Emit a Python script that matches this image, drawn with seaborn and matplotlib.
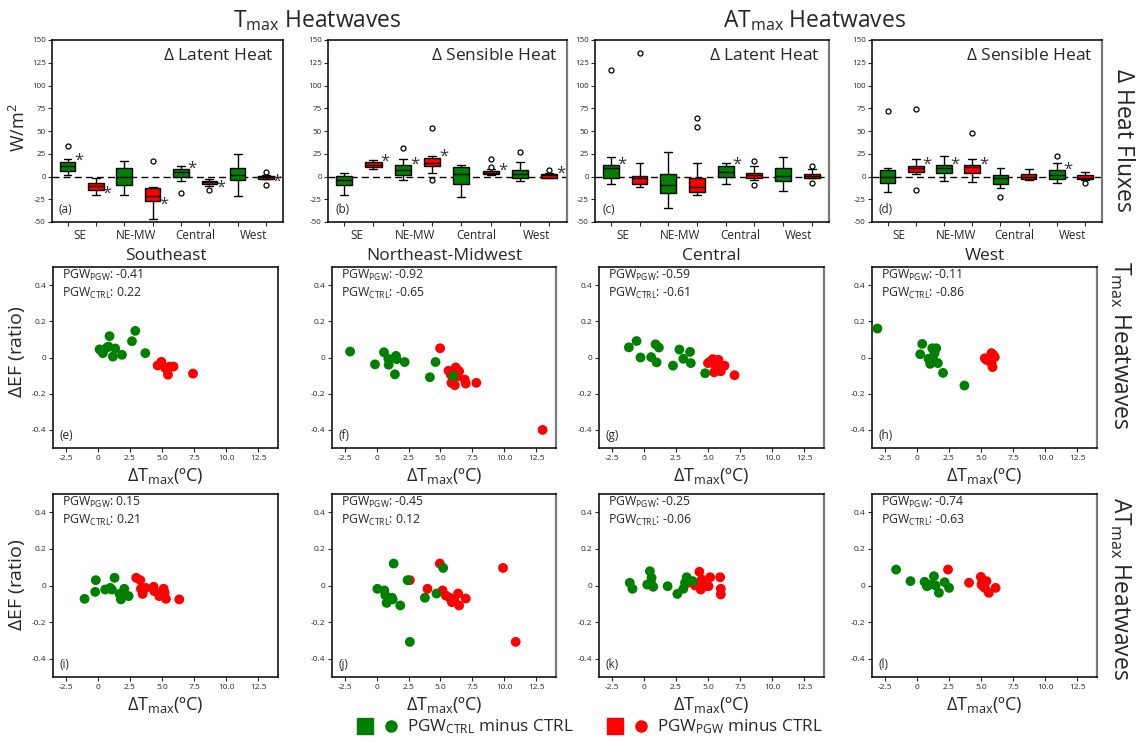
import numpy as np
import pandas as pd
import matplotlib
matplotlib.use("Agg")
import matplotlib.pyplot as plt
import seaborn as sns
from matplotlib.lines import Line2D
from matplotlib.legend_handler import HandlerTuple

sns.set_theme(style="ticks")
plt.rcParams["font.family"] = ["Open Sans", "DejaVu Sans"]
plt.rcParams["mathtext.fontset"] = "custom"
plt.rcParams["mathtext.rm"] = "Open Sans"
plt.rcParams["mathtext.it"] = "Open Sans:italic"
plt.rcParams["mathtext.bf"] = "Open Sans:bold"
plt.rcParams["axes.unicode_minus"] = False

GREEN = "#008000"
RED = "#ff0000"

REGIONS = ["SE", "NE-MW", "Central", "West"]
REGION_TITLES = ["Southeast", "Northeast-Midwest", "Central", "West"]

# Box summaries per slot: [low whisker, q1, median, q3, high whisker]
# slots alternate CTRL (even) / PGW (odd) for SE, NE-MW, Central, West
LH_TMAX = [
    [2, 5.5, 11, 16.2, 19.5],
    [-20, -15, -10.7, -7.4, -1.8],
    [-20, -9.6, 0, 9.2, 16.6],
    [-47, -26.9, -21.4, -12.5, -11.4],
    [-5, -1, 4.4, 7.7, 11],
    [-10.7, -8.5, -5.9, -4.4, -2.2],
    [-21.4, -4, 1.5, 9.6, 24.7],
    [-3, -2.2, -0.7, 0.7, 1.5],
]
LH_TMAX_OUT = [[34], [], [], [17.3], [-17.7], [-14.4], [], [4.4, -8.8]]
LH_TMAX_SIG = [1, 1, 0, 1, 1, 1, 0, 1]

SH_TMAX = [
    [-20.3, -9.2, -3.3, 0.4, 3.3],
    [7.7, 10, 12.9, 15.5, 17.7],
    [-3.3, 1.5, 7.4, 12.2, 19],
    [3.3, 11.4, 15.1, 20.3, 22.8],
    [-22.5, -8.1, 2.2, 10.3, 12.2],
    [1.5, 2.2, 4, 5.5, 7.7],
    [-5.2, -1.8, 2.6, 7, 15.5],
    [-1.8, -1.1, 1.1, 2.6, 3.7],
]
SH_TMAX_OUT = [[], [], [31], [53, -3.3], [], [19.5, 10.3], [27.3], [7.4]]
SH_TMAX_SIG = [0, 1, 1, 1, 0, 1, 0, 1]

LH_ATMAX = [
    [-8.1, -1.5, 8.8, 12.5, 21.7],
    [-11, -8.5, -1.5, 0.7, 14.4],
    [-34.3, -18.4, -9.6, 2.6, 26.5],
    [-20.3, -16.6, -11.8, -1.5, 14.4],
    [-8.1, 0, 4.4, 11.8, 14.7],
    [-4, -1.5, 1.5, 3.7, 11],
    [-15.8, -4.4, 0.4, 9.2, 21.7],
    [-1.5, -1.5, 0.7, 2.6, 7.7],
]
LH_ATMAX_OUT = [[116.8], [136], [], [64.8, 54.1], [], [17.3, -9.6], [], [11.8, -7.4]]
LH_ATMAX_SIG = [1, 0, 0, 0, 1, 0, 0, 0]

SH_ATMAX = [
    [-17.3, -7.4, 0, 7, 9.6],
    [2.2, 5.2, 9.6, 11.8, 19],
    [-4.4, 3.3, 9.6, 12.2, 22.8],
    [-5.9, 3.3, 10, 12.5, 19],
    [-12.2, -7.7, -1.1, 1.5, 9.6],
    [-3.3, -2.2, 0, 2.6, 8.1],
    [-7.4, -2.2, 1.8, 7, 15.1],
    [-3.3, -2.6, -1.1, 1.1, 4.8],
]
SH_ATMAX_OUT = [[71.5], [73.7, -14.7], [], [47.5], [-22.1], [], [22.1], [-7.4]]
SH_ATMAX_SIG = [0, 1, 1, 1, 0, 0, 1, 0]

# Scatter points (dTmax, dEF) -- Tmax heatwaves
SE_T_CTRL = [(0.13, 0.045), (0.39, 0.024), (0.7, 0.055), (0.83, 0.06), (0.91, 0.118),
             (1.17, 0.005), (1.35, 0.05), (1.88, 0.015), (2.66, 0.09), (2.92, 0.147), (3.7, 0.024)]
SE_T_PGW = [(4.66, -0.044), (4.95, -0.024), (5.26, -0.058), (5.4, -0.067), (5.47, -0.095),
            (5.6, -0.05), (5.9, -0.05), (7.42, -0.089)]
NE_T_CTRL = [(-2.08, 0.033), (-0.13, -0.038), (0.57, 0.029), (0.91, -0.007), (0.94, -0.04),
             (1.51, 0.009), (1.56, -0.009), (1.43, -0.093), (2.19, -0.025), (4.17, -0.109),
             (4.61, -0.025), (6.0, -0.102)]
NE_T_PGW = [(4.97, 0.051), (5.63, -0.073), (5.86, -0.14), (6.2, -0.055), (6.33, -0.104),
            (6.12, -0.153), (6.9, -0.122), (6.98, -0.144), (7.81, -0.14), (13.0, -0.4),
            (5.81, -0.095), (6.46, -0.076)]
CE_T_CTRL = [(-1.17, 0.056), (-0.57, 0.091), (-0.26, 0.0), (0.57, 0.002), (0.91, 0.073),
             (1.17, 0.055), (0.99, -0.027), (2.27, -0.045), (2.77, 0.044), (3.08, -0.007),
             (3.6, 0.031), (3.66, -0.031), (4.78, -0.087)]
CE_T_PGW = [(5.0, -0.031), (5.17, -0.022), (5.38, -0.009), (5.48, -0.082), (5.82, -0.013),
            (5.95, -0.045), (6.0, -0.076), (6.29, -0.045), (7.07, -0.098), (5.61, -0.049)]
WE_T_CTRL = [(-3.08, 0.16), (0.26, 0.018), (0.42, 0.075), (0.91, -0.007), (1.04, -0.035),
             (1.2, 0.051), (1.38, 0.024), (1.51, 0.051), (1.64, -0.031), (2.04, -0.085),
             (3.71, -0.155), (1.25, -0.004)]
WE_T_PGW = [(5.3, -0.004), (5.56, -0.009), (5.82, 0.024), (5.9, -0.053), (6.08, 0.002),
            (5.69, -0.022), (5.95, 0.015), (5.43, -0.013), (5.82, -0.031)]

# Scatter points (dTmax, dEF) -- ATmax heatwaves
SE_A_CTRL = [(-1.04, -0.073), (-0.21, -0.035), (-0.16, 0.029), (0.57, -0.022), (0.96, -0.013),
             (1.09, -0.022), (1.3, 0.042), (1.69, -0.046), (1.8, -0.076), (2.06, -0.018),
             (2.08, -0.049), (2.4, -0.058)]
SE_A_PGW = [(2.99, 0.042), (3.31, 0.029), (3.36, -0.018), (3.49, -0.046), (3.75, -0.013),
            (4.35, -0.007), (4.4, -0.031), (4.79, -0.058), (5.13, -0.018), (5.21, -0.04),
            (5.31, -0.073), (6.35, -0.076)]
NE_A_CTRL = [(0.05, -0.018), (0.6, -0.027), (0.68, -0.053), (0.78, -0.095), (1.2, -0.067),
             (1.25, -0.076), (1.33, 0.12), (1.85, -0.109), (2.42, 0.029), (2.6, -0.308),
             (3.78, -0.067), (4.69, -0.044), (5.21, 0.096)]
NE_A_PGW = [(2.6, 0.029), (3.98, -0.018), (4.95, 0.12), (5.16, -0.027), (5.42, -0.055),
            (5.73, -0.067), (5.89, -0.091), (6.07, -0.08), (6.38, -0.044), (6.46, -0.109),
            (6.98, -0.071), (9.9, 0.096), (10.89, -0.308)]
CE_A_CTRL = [(-1.1, 0.015), (-0.89, -0.018), (0.26, 0.005), (0.47, 0.078), (0.6, 0.042),
             (0.73, -0.007), (0.55, 0.015), (1.85, -0.004), (2.61, -0.046), (3.08, -0.018),
             (3.21, 0.015), (3.34, 0.045), (3.81, 0.024)]
CE_A_PGW = [(3.47, 0.015), (3.99, 0.0), (4.33, 0.075), (4.44, -0.022), (4.57, 0.015),
            (4.78, -0.004), (5.04, -0.004), (5.17, 0.045), (5.95, 0.045), (6.0, -0.018),
            (6.0, -0.049), (4.52, 0.033)]
WE_A_CTRL = [(-1.62, 0.087), (-0.5, 0.024), (0.6, 0.02), (0.78, -0.004), (0.99, 0.005),
             (1.33, 0.051), (1.46, 0.0), (1.72, -0.04), (2.17, 0.018), (2.51, -0.013)]
WE_A_PGW = [(2.43, 0.087), (4.07, 0.015), (4.99, 0.047), (5.12, 0.024), (5.17, -0.004),
            (5.43, 0.024), (5.3, -0.013), (5.61, -0.04), (6.14, -0.013), (5.04, 0.005)]

# Correlation labels per panel: (PGW_PGW, PGW_CTRL)
R_TMAX = [("-0.41", "0.22"), ("-0.92", "-0.65"), ("-0.59", "-0.61"), ("-0.11", "-0.86")]
R_ATMAX = [("0.15", "0.21"), ("-0.45", "0.12"), ("-0.25", "-0.06"), ("-0.74", "-0.63")]

BOX_TICKS = [150, 125, 100, 75, 50, 25, 0, -25, -50]
SC_XTICKS = [-2.5, 0, 2.5, 5.0, 7.5, 10.0, 12.5]
SC_XLABELS = ["-2.5", "0", "2.5", "5.0", "7.5", "10.0", "12.5"]
SC_YTICKS = [-0.4, -0.2, 0, 0.2, 0.4]
SC_YLABELS = ["-0.4", "-0.2", "0", "0.2", "0.4"]

fig = plt.figure(figsize=(11.4, 7.42), dpi=100)

W, H = 1140.0, 742.0


def axes_px(x0, x1, y0, y1):
    return fig.add_axes([x0 / W, 1 - y1 / H, (x1 - x0) / W, (y1 - y0) / H])


def style_spines(ax, gray_right):
    for s in ax.spines.values():
        s.set_color("black")
        s.set_linewidth(1.1)
    if gray_right:
        ax.spines["right"].set_color("#7a7a7a")
        ax.spines["right"].set_linewidth(1.6)


def draw_box(ax, stats, outliers, sig, title, letter):
    slot, value = [], []
    for i, s in enumerate(stats):
        slot += [str(i)] * len(s)
        value += s
    df = pd.DataFrame({"slot": slot, "value": value})
    order = [str(i) for i in range(8)]
    pal = {str(i): (GREEN if i % 2 == 0 else RED) for i in range(8)}
    ax.axhline(0, color="black", lw=1.0, ls=(0, (5, 3)), zorder=0.5)
    sns.boxplot(data=df, x="slot", y="value", hue="slot", order=order, hue_order=order,
                palette=pal, legend=False, whis=(0, 100), showfliers=False, width=0.55,
                linewidth=1.0, linecolor="black", saturation=1, ax=ax)
    for i, pts in enumerate(outliers):
        if pts:
            ax.scatter([i] * len(pts), pts, s=13, facecolors="white", edgecolors="black",
                       linewidths=0.9, zorder=4)
    for i, flag in enumerate(sig):
        if flag:
            s = stats[i]
            y = s[3] + 1 if s[2] >= 0 else s[1] - 4
            ax.text(i + 0.4, y, "*", fontsize=12, ha="center", va="center", color="#333333")
    ax.set_xlim(-0.55, 7.6)
    ax.set_ylim(-50, 150)
    ax.set_yticks(BOX_TICKS)
    ax.set_yticklabels([str(t) for t in BOX_TICKS])
    ax.set_xticks(range(8))
    ax.set_xticklabels([""] * 8)
    ax.set_xticks([0.42, 2.42, 4.5, 6.55], minor=True)
    ax.set_xticklabels(REGIONS, minor=True)
    ax.tick_params(axis="x", which="minor", length=0, labelsize=8.5, pad=5)
    ax.tick_params(axis="x", which="major", length=3, width=0.8, pad=1)
    ax.tick_params(axis="y", length=3, width=0.8, labelsize=5.8, pad=1.5)
    ax.set_xlabel("")
    ax.set_ylabel("")
    ax.text(0.96, 0.955, title, transform=ax.transAxes, ha="right", va="top", fontsize=12.5)
    ax.text(0.03, 0.035, letter, transform=ax.transAxes, ha="left", va="bottom", fontsize=8.5)


def draw_scatter(ax, ctrl, pgw, r, letter):
    df = pd.DataFrame(
        [(x, y, "PGW") for x, y in pgw] + [(x, y, "CTRL") for x, y in ctrl],
        columns=["dT", "dEF", "run"])
    sns.scatterplot(data=df, x="dT", y="dEF", hue="run", palette={"CTRL": GREEN, "PGW": RED},
                    s=50, linewidth=0, legend=False, ax=ax, zorder=3)
    ax.set_xlim(-3.5, 14.05)
    ax.set_ylim(-0.5, 0.5)
    ax.set_xticks(SC_XTICKS)
    ax.set_xticklabels(SC_XLABELS)
    ax.set_yticks(SC_YTICKS)
    ax.set_yticklabels(SC_YLABELS)
    ax.tick_params(length=3, width=0.8, labelsize=6, pad=2)
    ax.set_ylabel("")
    ax.set_xlabel(r"$\Delta$T$_{\mathrm{max}}$(ºC)", fontsize=13, labelpad=3)
    ax.text(0.04, 0.955, r"PGW$_{\mathrm{PGW}}$: " + r[0], transform=ax.transAxes,
            ha="left", va="center", fontsize=8.8)
    ax.text(0.04, 0.855, r"PGW$_{\mathrm{CTRL}}$: " + r[1], transform=ax.transAxes,
            ha="left", va="center", fontsize=8.8)
    ax.text(0.03, 0.035, letter, transform=ax.transAxes, ha="left", va="bottom", fontsize=8.5)


box_cols = [(52, 283), (328, 567), (595, 829), (872, 1102)]
sc_cols = [(53, 278), (332, 556), (599, 824), (872, 1097)]

box_data = [
    (LH_TMAX, LH_TMAX_OUT, LH_TMAX_SIG, r"$\Delta$ Latent Heat", "(a)"),
    (SH_TMAX, SH_TMAX_OUT, SH_TMAX_SIG, r"$\Delta$ Sensible Heat", "(b)"),
    (LH_ATMAX, LH_ATMAX_OUT, LH_ATMAX_SIG, r"$\Delta$ Latent Heat", "(c)"),
    (SH_ATMAX, SH_ATMAX_OUT, SH_ATMAX_SIG, r"$\Delta$ Sensible Heat", "(d)"),
]
for k, (x0, x1) in enumerate(box_cols):
    ax = axes_px(x0, x1, 40, 222)
    draw_box(ax, *box_data[k])
    style_spines(ax, k > 0)

t_sets = [(SE_T_CTRL, SE_T_PGW), (NE_T_CTRL, NE_T_PGW), (CE_T_CTRL, CE_T_PGW), (WE_T_CTRL, WE_T_PGW)]
a_sets = [(SE_A_CTRL, SE_A_PGW), (NE_A_CTRL, NE_A_PGW), (CE_A_CTRL, CE_A_PGW), (WE_A_CTRL, WE_A_PGW)]
t_letters = ["(e)", "(f)", "(g)", "(h)"]
a_letters = ["(i)", "(j)", "(k)", "(l)"]

for k, (x0, x1) in enumerate(sc_cols):
    ax = axes_px(x0, x1, 267, 448)
    draw_scatter(ax, t_sets[k][0], t_sets[k][1], R_TMAX[k], t_letters[k])
    ax.set_title(REGION_TITLES[k], fontsize=12.5, pad=5)
    style_spines(ax, k > 0)

    ax = axes_px(x0, x1, 494, 677)
    draw_scatter(ax, a_sets[k][0], a_sets[k][1], R_ATMAX[k], a_letters[k])
    style_spines(ax, k > 0)

# Left-hand axis titles
fig.text(19 / W, 1 - 128 / H, r"W/m$^2$", rotation=90, ha="center", va="center", fontsize=13)
fig.text(17 / W, 1 - 352 / H, r"$\Delta$EF (ratio)", rotation=90, ha="center", va="center", fontsize=14)
fig.text(17 / W, 1 - 585 / H, r"$\Delta$EF (ratio)", rotation=90, ha="center", va="center", fontsize=14)

# Column-group headers
fig.text(317 / W, 1 - 27 / H, r"T$_{\mathrm{max}}$ Heatwaves", ha="center", va="baseline", fontsize=16.5)
fig.text(815 / W, 1 - 27 / H, r"AT$_{\mathrm{max}}$ Heatwaves", ha="center", va="baseline", fontsize=16.5)

# Row labels on the right
fig.text(1123 / W, 1 - 140 / H, r"$\Delta$ Heat Fluxes", rotation=270, ha="center", va="center", fontsize=16.5)
fig.text(1120 / W, 1 - 345 / H, r"T$_{\mathrm{max}}$ Heatwaves", rotation=270, ha="center", va="center", fontsize=16.5)
fig.text(1120 / W, 1 - 589 / H, r"AT$_{\mathrm{max}}$ Heatwaves", rotation=270, ha="center", va="center", fontsize=16.5)

# Shared legend
g_sq = Line2D([], [], marker="s", ls="none", color=GREEN, markersize=11)
g_ci = Line2D([], [], marker="o", ls="none", color=GREEN, markersize=8)
r_sq = Line2D([], [], marker="s", ls="none", color=RED, markersize=11)
r_ci = Line2D([], [], marker="o", ls="none", color=RED, markersize=8)
fig.legend(handles=[(g_sq, g_ci), (r_sq, r_ci)],
           labels=[r"PGW$_{\mathrm{CTRL}}$ minus CTRL", r"PGW$_{\mathrm{PGW}}$ minus CTRL"],
           handler_map={tuple: HandlerTuple(ndivide=None, pad=0.6)},
           loc="center", bbox_to_anchor=(590 / W, 1 - 727 / H), ncol=2, frameon=False,
           fontsize=12.3, handlelength=2.4, handletextpad=0.5, columnspacing=2.0)

fig.savefig("out.png", dpi=100)
